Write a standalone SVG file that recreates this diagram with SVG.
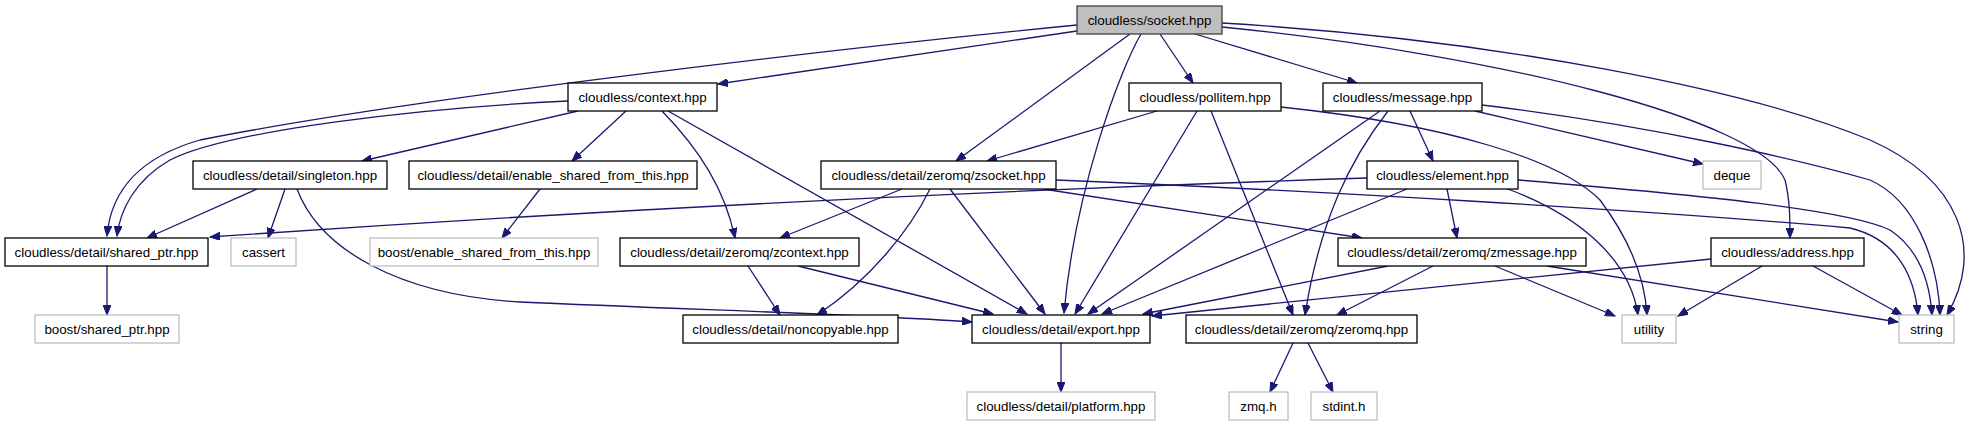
<svg xmlns="http://www.w3.org/2000/svg" width="1975" height="427" viewBox="0 0 1975 427">
<style>
.n rect{fill:#fff;stroke:#000;stroke-width:1.3}
.n.ext rect{stroke:#bfbfbf}
.n.root rect{fill:#bfbfbf;stroke:#404040}
.n text{font-family:"Liberation Sans",Arial,Helvetica,sans-serif;font-size:13.33px;text-anchor:middle;fill:#000}
#edges path{fill:none;stroke:#191970;stroke-width:1.3;marker-end:url(#ah)}
</style>
<defs>
<marker id="ah" markerUnits="userSpaceOnUse" markerWidth="11" markerHeight="8" refX="10" refY="4" orient="auto">
<path d="M0,0 L10,4 L0,8 z" fill="#191970" stroke="#191970" stroke-width="1"/>
</marker>
</defs>
<rect width="1975" height="427" fill="#fff"/>
<g id="edges">
<path d="M1077,25 C820,50 400,100 200,140 C130,160 110,200 107,236"/>
<path d="M1077,31 L718,84"/>
<path d="M1130,34 L956,161"/>
<path d="M1141,34 C1120,70 1075,190 1064,313"/>
<path d="M1160,34 L1193,83"/>
<path d="M1195,34 L1357,83"/>
<path d="M1222,27 C1500,55 1760,120 1785,180 C1790,200 1790,220 1790,238"/>
<path d="M1222,23 C1500,40 1750,90 1870,140 C1960,180 1985,250 1947,315"/>
<path d="M568,101 C420,108 230,130 170,160 C135,180 120,210 117,236"/>
<path d="M578,111 L362,161"/>
<path d="M626,111 L572,161"/>
<path d="M662,111 C700,150 725,190 735,238"/>
<path d="M668,111 L1027,314"/>
<path d="M257,189 L147,238"/>
<path d="M285,189 L268,238"/>
<path d="M297,189 C320,250 400,295 520,302 C700,310 880,315 972,322"/>
<path d="M540,189 L502,238"/>
<path d="M1157,111 L987,161"/>
<path d="M1197,111 L1075,314"/>
<path d="M1211,111 L1293,315"/>
<path d="M1281,107 C1450,125 1560,160 1600,200 C1630,240 1645,280 1647,315"/>
<path d="M1410,111 L1433,161"/>
<path d="M1475,111 L1703,164"/>
<path d="M1482,105 C1650,125 1800,160 1870,180 C1915,200 1938,260 1940,315"/>
<path d="M1380,111 L1088,314"/>
<path d="M1388,111 C1350,160 1320,220 1305,315"/>
<path d="M902,189 L780,238"/>
<path d="M930,189 C910,230 870,280 817,315"/>
<path d="M950,189 L1045,314"/>
<path d="M1043,189 L1362,238"/>
<path d="M1056,180 C1300,190 1650,210 1850,228 C1900,240 1915,280 1918,315"/>
<path d="M1367,178 C1000,190 600,210 210,237"/>
<path d="M1407,189 L1102,314"/>
<path d="M1447,189 L1457,238"/>
<path d="M1505,188 C1580,215 1630,260 1638,315"/>
<path d="M1518,180 C1700,195 1850,210 1890,230 C1920,250 1930,285 1932,315"/>
<path d="M748,266 L780,315"/>
<path d="M798,266 L993,314"/>
<path d="M1388,266 L1143,314"/>
<path d="M1433,266 L1337,315"/>
<path d="M1495,266 L1615,316"/>
<path d="M1547,266 L1898,322"/>
<path d="M1711,259 L1152,316"/>
<path d="M1762,266 L1678,316"/>
<path d="M1813,266 L1902,315"/>
<path d="M107,266 L107,315"/>
<path d="M1061,343 L1061,392"/>
<path d="M1293,343 L1270,392"/>
<path d="M1308,343 L1333,392"/>
</g>
<g id="n_socket" class="n root"><rect x="1077" y="6" width="145" height="28"/><text x="1149.5" y="25">cloudless/socket.hpp</text></g>
<g id="n_context" class="n"><rect x="568" y="83" width="149" height="28"/><text x="642.5" y="102">cloudless/context.hpp</text></g>
<g id="n_pollitem" class="n"><rect x="1129" y="83" width="152" height="28"/><text x="1205" y="102">cloudless/pollitem.hpp</text></g>
<g id="n_message" class="n"><rect x="1323" y="83" width="159" height="28"/><text x="1402.5" y="102">cloudless/message.hpp</text></g>
<g id="n_singleton" class="n"><rect x="193" y="161" width="194" height="28"/><text x="290" y="180">cloudless/detail/singleton.hpp</text></g>
<g id="n_enable_shared" class="n"><rect x="409" y="161" width="288" height="28"/><text x="553" y="180">cloudless/detail/enable_shared_from_this.hpp</text></g>
<g id="n_zsocket" class="n"><rect x="821" y="161" width="235" height="28"/><text x="938.5" y="180">cloudless/detail/zeromq/zsocket.hpp</text></g>
<g id="n_element" class="n"><rect x="1367" y="161" width="151" height="28"/><text x="1442.5" y="180">cloudless/element.hpp</text></g>
<g id="n_deque" class="n ext"><rect x="1703" y="161" width="58" height="28"/><text x="1732" y="180">deque</text></g>
<g id="n_shared_ptr" class="n"><rect x="5" y="238" width="203" height="28"/><text x="106.5" y="257">cloudless/detail/shared_ptr.hpp</text></g>
<g id="n_cassert" class="n ext"><rect x="231" y="238" width="65" height="28"/><text x="263.5" y="257">cassert</text></g>
<g id="n_boost_enable" class="n ext"><rect x="370" y="238" width="228" height="28"/><text x="484" y="257">boost/enable_shared_from_this.hpp</text></g>
<g id="n_zcontext" class="n"><rect x="620" y="238" width="239" height="28"/><text x="739.5" y="257">cloudless/detail/zeromq/zcontext.hpp</text></g>
<g id="n_zmessage" class="n"><rect x="1338" y="238" width="248" height="28"/><text x="1462" y="257">cloudless/detail/zeromq/zmessage.hpp</text></g>
<g id="n_address" class="n"><rect x="1711" y="238" width="153" height="28"/><text x="1787.5" y="257">cloudless/address.hpp</text></g>
<g id="n_boost_shared_ptr" class="n ext"><rect x="35" y="315" width="144" height="28"/><text x="107" y="334">boost/shared_ptr.hpp</text></g>
<g id="n_noncopyable" class="n"><rect x="683" y="315" width="215" height="28"/><text x="790.5" y="334">cloudless/detail/noncopyable.hpp</text></g>
<g id="n_export" class="n"><rect x="972" y="315" width="178" height="28"/><text x="1061" y="334">cloudless/detail/export.hpp</text></g>
<g id="n_zeromq" class="n"><rect x="1186" y="315" width="231" height="28"/><text x="1301.5" y="334">cloudless/detail/zeromq/zeromq.hpp</text></g>
<g id="n_utility" class="n ext"><rect x="1622" y="315" width="54" height="28"/><text x="1649" y="334">utility</text></g>
<g id="n_string" class="n ext"><rect x="1899" y="315" width="55" height="28"/><text x="1926.5" y="334">string</text></g>
<g id="n_platform" class="n ext"><rect x="967" y="392" width="188" height="28"/><text x="1061" y="411">cloudless/detail/platform.hpp</text></g>
<g id="n_zmq" class="n ext"><rect x="1229" y="392" width="59" height="28"/><text x="1258.5" y="411">zmq.h</text></g>
<g id="n_stdint" class="n ext"><rect x="1311" y="392" width="66" height="28"/><text x="1344" y="411">stdint.h</text></g>
</svg>
